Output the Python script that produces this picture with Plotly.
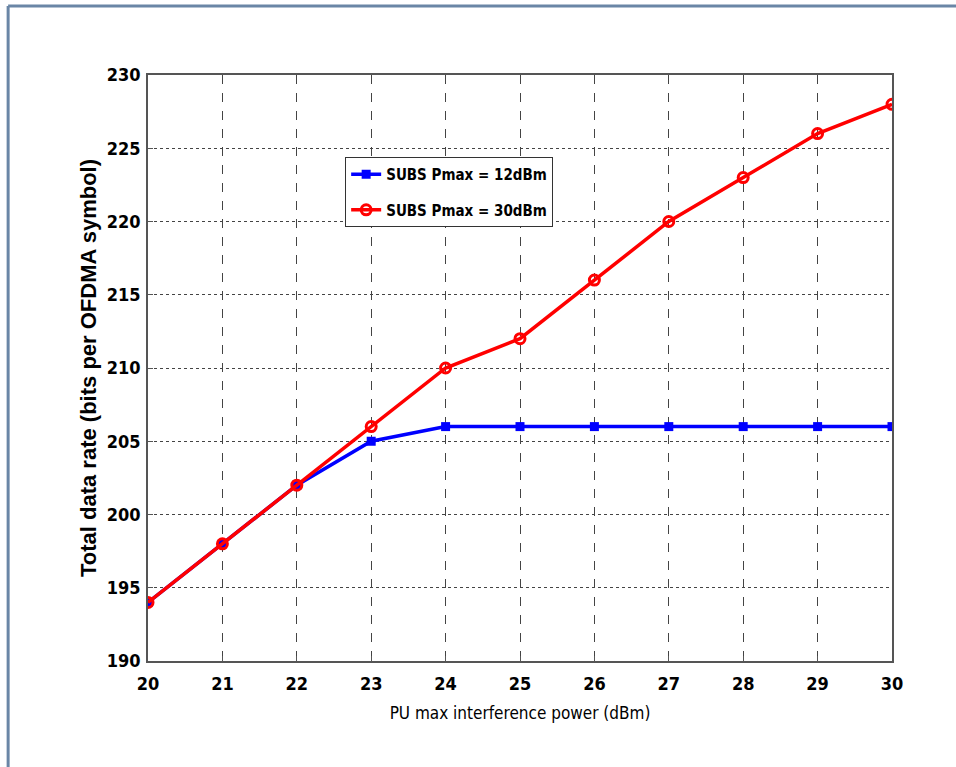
import plotly.graph_objects as go

x_vals = [20, 21, 22, 23, 24, 25, 26, 27, 28, 29, 30]
blue_vals = [194, 198, 202, 205, 206, 206, 206, 206, 206, 206, 206]
red_vals = [194, 198, 202, 206, 210, 212, 216, 220, 223, 226, 228]
blue_name = "SUBS Pmax = 12dBm"
red_name = "SUBS Pmax = 30dBm"
x_ticks = list(range(20, 31))
y_ticks = list(range(190, 231, 5))

narrow = "DejaVu Sans Condensed, Liberation Sans Narrow, Arial Narrow, Liberation Sans"

fig = go.Figure()
fig.add_trace(go.Scatter(
    x=x_vals, y=blue_vals, name=blue_name, mode="lines+markers", legendgroup="a",
    line=dict(color="#0000ff", width=3.5),
    marker=dict(symbol="square", size=9, color="#0000ff"),
))
fig.add_trace(go.Scatter(
    x=x_vals, y=red_vals, name=red_name, mode="lines+markers", legendgroup="b",
    line=dict(color="#ff0000", width=3.5),
    marker=dict(symbol="circle-open", size=10, color="#ff0000", line=dict(width=3, color="#ff0000")),
))

axis_common = dict(
    showline=True, linecolor="#555555", linewidth=1.5, mirror=True,
    ticks="inside", ticklen=5, tickcolor="#555555",
    showgrid=True, gridcolor="#444444", gridwidth=1, zeroline=False,
    tickfont=dict(family=narrow, size=18, color="#000000", weight="bold"),
)

fig.update_xaxes(
    range=[20, 30], tickvals=x_ticks, griddash="dash", ticklabelstandoff=6,
    title=dict(text="PU max interference power (dBm)", standoff=14,
               font=dict(family=narrow, size=17, color="#000000")),
    **axis_common,
)
fig.update_yaxes(
    range=[190, 230], tickvals=y_ticks, griddash="dot", ticklabelstandoff=2,
    title=dict(text="<b>Total data rate (bits per OFDMA symbol)</b>", standoff=4,
               font=dict(family="Liberation Sans, Arial", size=22, color="#000000")),
    **axis_common,
)

fig.update_layout(
    width=956, height=767,
    margin=dict(l=148, r=64, t=75, b=106),
    paper_bgcolor="white", plot_bgcolor="white",
    showlegend=True,
    legend=dict(
        x=0.265, y=0.86, xanchor="left", yanchor="top",
        bgcolor="white", bordercolor="#333333", borderwidth=1,
        font=dict(family=narrow, size=15, color="#000000", weight="bold"),
        itemwidth=30, tracegroupgap=13,
    ),
    shapes=[
        dict(type="line", xref="paper", yref="paper", x0=-0.188, x1=1.1, y0=1.1177, y1=1.1177,
             line=dict(color="#6a86a6", width=3)),
        dict(type="line", xref="paper", yref="paper", x0=-0.188, x1=-0.188, y0=1.1177, y1=-0.2,
             line=dict(color="#6a86a6", width=3)),
    ],
)

fig.write_html("out.html")
